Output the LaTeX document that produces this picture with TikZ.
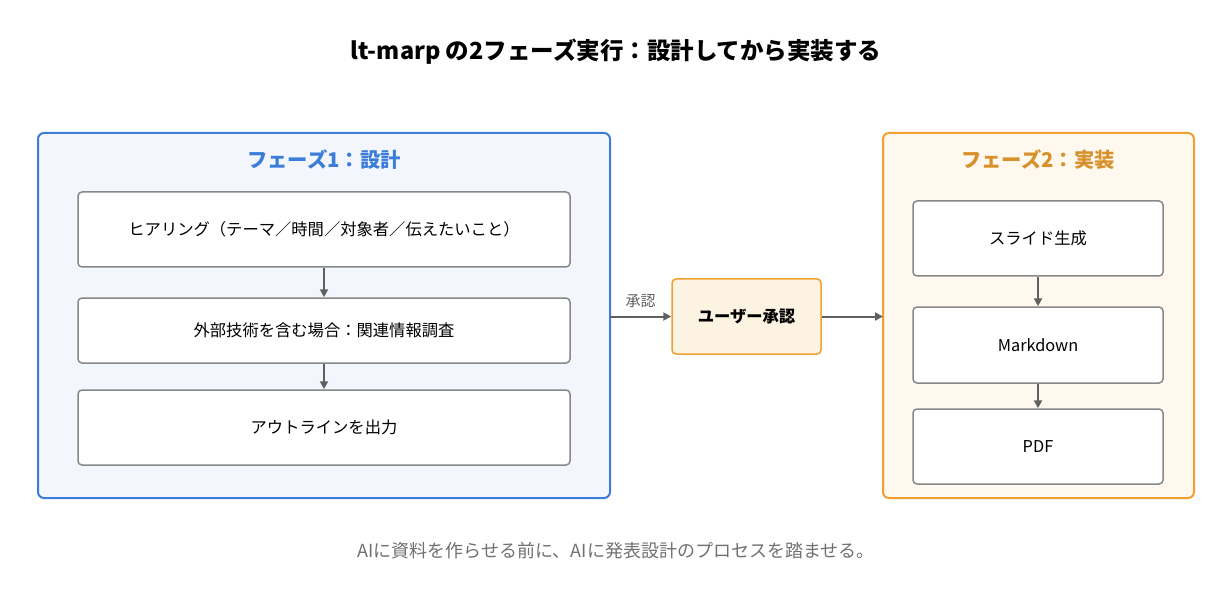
\documentclass[tikz,border=0pt]{standalone}
\usepackage{fontspec}
\setmainfont{Noto Sans CJK JP}
\usetikzlibrary{arrows.meta}
\definecolor{blueb}{HTML}{3B7DD8}
\definecolor{bluef}{HTML}{F3F7FD}
\definecolor{orab}{HTML}{F0A030}
\definecolor{oraf}{HTML}{FEF8EE}
\definecolor{oraf2}{HTML}{FDF3E3}
\definecolor{grayb}{HTML}{888888}
\definecolor{arr}{HTML}{606060}
\begin{document}
\begin{tikzpicture}[x=1pt,y=-1pt,
  box/.style={draw=grayb,line width=1.5pt,fill=white,rounded corners=4pt,font=\fontsize{16.3}{18}\selectfont},
  conn/.style={draw=arr,line width=2pt,-{Triangle[length=8pt,width=8pt]}}]
\useasboundingbox (0,0) rectangle (1232,604);
\node (title) at (616,52) {\fontsize{23.5}{26}\selectfont\bfseries lt-marp の2フェーズ実行：設計してから実装する};
\draw[blueb,fill=bluef,line width=2pt,rounded corners=6pt] (38,133) rectangle (610,498);
\node (p1) at (324,160) {\fontsize{20.3}{23}\selectfont\bfseries\color{blueb}フェーズ1：設計};
\draw[orab,fill=oraf,line width=2pt,rounded corners=6pt] (883,133) rectangle (1194,498);
\node (p2) at (1038,160) {\fontsize{20.3}{23}\selectfont\bfseries\color{orab!90!black}フェーズ2：実装};
\node[box,minimum width=492pt,minimum height=75pt] (a) at (324,229.5) {ヒアリング（テーマ／時間／対象者／伝えたいこと）};
\node[box,minimum width=492pt,minimum height=65pt] (b) at (324,330.5) {外部技術を含む場合：関連情報調査};
\node[box,minimum width=492pt,minimum height=75pt] (c) at (324,427.5) {アウトラインを出力};
\node[draw=orab,fill=oraf2,line width=1.5pt,rounded corners=4pt,minimum width=149pt,minimum height=75pt,font=\fontsize{16.3}{18}\selectfont\bfseries] (u) at (746.5,316.5) {ユーザー承認};
\node[box,minimum width=250pt,minimum height=75pt] (d) at (1038,238.5) {スライド生成};
\node[box,minimum width=250pt,minimum height=76pt] (e) at (1038,345) {Markdown};
\node[box,minimum width=250pt,minimum height=75pt] (f) at (1038,446.5) {PDF};
\draw[conn] (a) -- (b);
\draw[conn] (b) -- (c);
\draw[conn] (d) -- (e);
\draw[conn] (e) -- (f);
\coordinate (l) at (610,316.5);
\coordinate (r) at (883,316.5);
\draw[conn] (l) -- node[above=4pt,text=arr,font=\fontsize{15}{17}\selectfont]{承認} (u);
\draw[conn] (u) -- (r);
\node[text=arr!90!white] (cap) at (616,551) {\fontsize{18}{21}\selectfont AIに資料を作らせる前に、AIに発表設計のプロセスを踏ませる。};
\end{tikzpicture}
\end{document}
